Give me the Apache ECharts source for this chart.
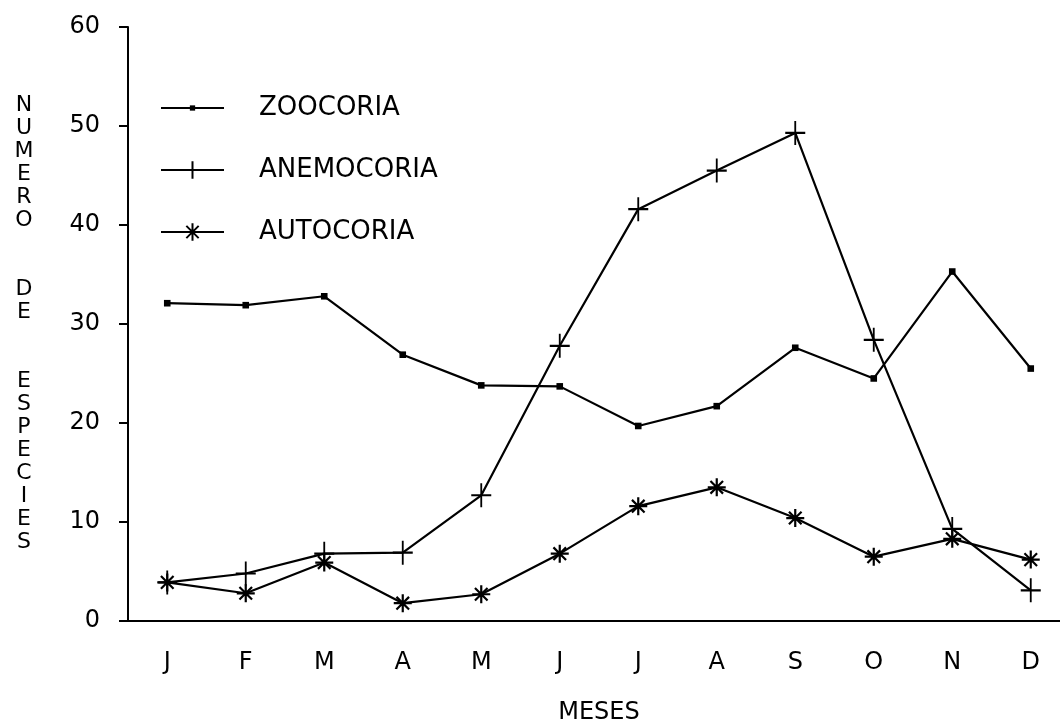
<!DOCTYPE html>
<html>
<head>
<meta charset="utf-8">
<script src="https://cdn.jsdelivr.net/npm/echarts@6/dist/echarts.min.js"></script>
<style>
  html, body { margin: 0; padding: 0; background: #fff; }
  #chart { width: 1060px; height: 724px; }
</style>
</head>
<body>
<div id="chart"></div>
<script>
// meses (eje x)
const meses = ['J', 'F', 'M', 'A', 'M', 'J', 'J', 'A', 'S', 'O', 'N', 'D'];
// numero de especies por mes
const zoocoria = [32.1, 31.9, 32.8, 26.9, 23.8, 23.7, 19.7, 21.7, 27.6, 24.5, 35.3, 25.5];
const anemocoria = [3.9, 4.8, 6.8, 6.9, 12.7, 27.8, 41.6, 45.5, 49.3, 28.4, 9.3, 3.1];
const autocoria = [3.9, 2.8, 5.9, 1.8, 2.7, 6.8, 11.6, 13.5, 10.4, 6.5, 8.3, 6.2];
const yTicks = [0, 10, 20, 30, 40, 50, 60];

// simbolos: punto pequeño, cruz y asterisco
const SYM_DOT = 'path://M0,0M10,10M3.5,3.5L6.5,3.5L6.5,6.5L3.5,6.5Z';
const SYM_PLUS = 'path://M0,5L10,5M5,0L5,10';
const SYM_STAR = 'path://M0,5L10,5M5,0L5,10M1.5,1.5L8.5,8.5M1.5,8.5L8.5,1.5';

const FONT = 'DejaVu Sans';
const yName = 'NUMERO\n\n\nDE\n\n\nESPECIES'.split('').join('\n').replace(/\n\n\n/g, '\n');

const chart = echarts.init(document.getElementById('chart'));

function serie(name, data, symbol, size, bw) {
  return {
    name: name,
    type: 'line',
    data: data,
    symbol: symbol,
    symbolSize: size,
    showSymbol: true,
    lineStyle: { color: '#000', width: 2.2 },
    itemStyle: { color: '#000', borderColor: '#000', borderWidth: bw },
    emphasis: { disabled: true },
    z: 3
  };
}

chart.setOption({
  animation: false,
  backgroundColor: '#fff',
  grid: { left: 128, top: 27, width: 942, height: 594, outerBoundsMode: 'none' },
  legend: {
    orient: 'vertical',
    left: 160,
    top: 95,
    padding: 0,
    itemWidth: 63,
    itemHeight: 22,
    itemGap: 36,
    selectedMode: false,
    textStyle: { fontFamily: FONT, fontSize: 26, color: '#000', padding: [0, 0, 0, 30] },
    data: ['ZOOCORIA', 'ANEMOCORIA', 'AUTOCORIA']
  },
  xAxis: {
    type: 'category',
    data: meses,
    boundaryGap: true,
    name: 'MESES',
    nameLocation: 'middle',
    nameGap: 80,
    nameTextStyle: { fontFamily: FONT, fontSize: 24, color: '#000' },
    axisLine: { lineStyle: { color: '#000', width: 2 } },
    axisTick: { alignWithLabel: true, length: 9, lineStyle: { color: '#000', width: 2 } },
    axisLabel: { fontFamily: FONT, fontSize: 24, color: '#000', margin: 30 },
    splitLine: { show: false }
  },
  yAxis: {
    type: 'value',
    min: yTicks[0],
    max: yTicks[yTicks.length - 1],
    interval: 10,
    name: yName,
    nameLocation: 'middle',
    nameRotate: 0,
    nameGap: 104,
    nameTextStyle: { fontFamily: FONT, fontSize: 22, lineHeight: 23, color: '#000', align: 'center', verticalAlign: 'middle' },
    axisLine: { show: true, lineStyle: { color: '#000', width: 2 } },
    axisTick: { show: true, length: 9, lineStyle: { color: '#000', width: 2 } },
    axisLabel: { fontFamily: FONT, fontSize: 24, color: '#000', margin: 28 },
    splitLine: { show: false }
  },
  series: [
    serie('ZOOCORIA', zoocoria, SYM_DOT, 22, 0),
    serie('ANEMOCORIA', anemocoria, SYM_PLUS, [20, 24], 2),
    serie('AUTOCORIA', autocoria, SYM_STAR, 18, 2.2)
  ]
});
</script>
</body>
</html>
